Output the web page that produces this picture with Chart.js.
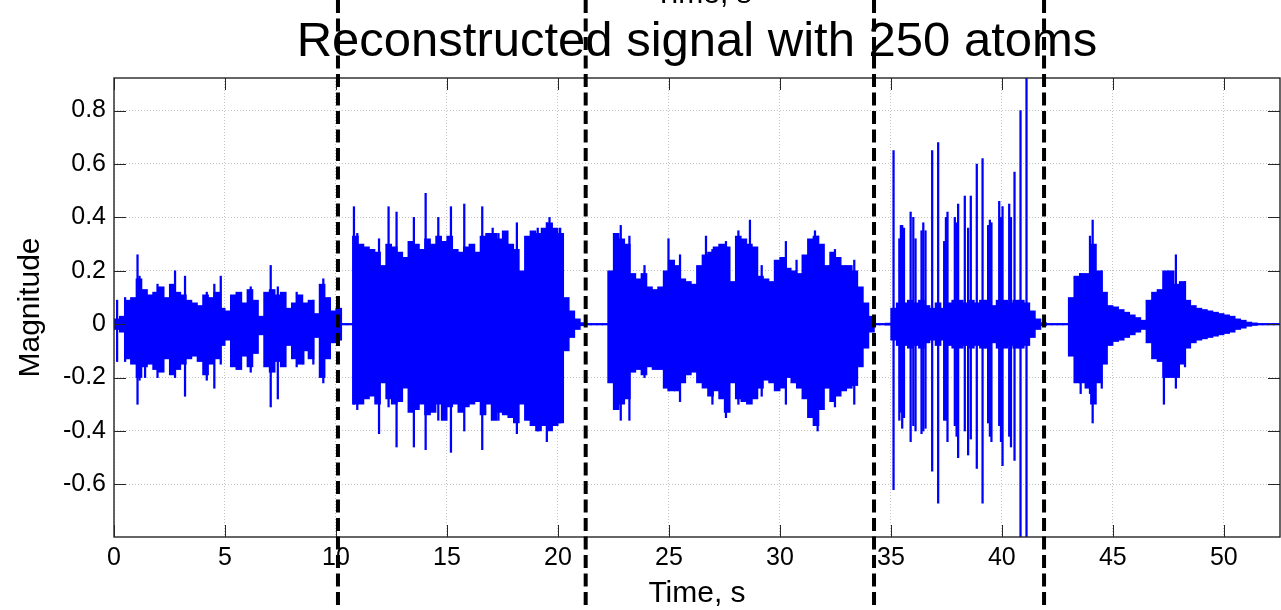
<!DOCTYPE html>
<html>
<head>
<meta charset="utf-8">
<script src="https://cdn.jsdelivr.net/npm/chart.js@4/dist/chart.umd.min.js"></script>
<style>
  body { margin: 0; background: #fff; }
  canvas { display: block; }
</style>
</head>
<body>
<canvas id="signalChart" width="1281" height="610"></canvas>
<script>
// envelope of the waveform, one value per 0.25 s bin (from 0 s)
const binStep = 0.25;
const coreHi = [
  0.02, 0.03, 0.09, 0.10,   0.17, 0.13, 0.11, 0.12,   0.14, 0.10, 0.15, 0.12,   0.11, 0.09, 0.08, 0.07,
  0.11, 0.10, 0.12, 0.06,   0.05, 0.11, 0.12, 0.08,   0.13, 0.09, 0.03, 0.12,   0.13, 0.11, 0.12, 0.06,
  0.08, 0.11, 0.08, 0.09,   0.04, 0.15, 0.10, 0.05,   0.06, 0.003, 0.003, 0.33,  0.30, 0.29, 0.28, 0.27,
  0.22, 0.30, 0.29, 0.27,   0.25, 0.31, 0.30, 0.28,   0.32, 0.30, 0.33, 0.31,   0.33, 0.28, 0.27, 0.29,
  0.30, 0.27, 0.33, 0.34,   0.34, 0.32, 0.35, 0.30,   0.28, 0.20, 0.33, 0.35,   0.34, 0.36, 0.38, 0.36,
  0.34, 0.10, 0.05, 0.02,   0.006, 0.003, 0.003, 0.003, 0.003, 0.20, 0.34, 0.32, 0.30, 0.19, 0.17, 0.19,
  0.14, 0.13, 0.14, 0.20,   0.24, 0.22, 0.17, 0.16,   0.15, 0.22, 0.26, 0.27,   0.29, 0.30, 0.29, 0.16,
  0.33, 0.32, 0.30, 0.29,   0.18, 0.17, 0.16, 0.24,   0.25, 0.21, 0.20, 0.19,   0.26, 0.32, 0.33, 0.30,
  0.22, 0.27, 0.25, 0.22,   0.22, 0.20, 0.14, 0.08,   0.03, 0.003, 0.003, 0.004, 0.06, 0.08, 0.08, 0.09,
  0.08, 0.09, 0.07, 0.06,   0.08, 0.06, 0.08, 0.09,   0.09, 0.08, 0.09, 0.08,   0.09, 0.09, 0.07, 0.09,
  0.09, 0.08, 0.09, 0.09,   0.08, 0.05, 0.02, 0.006,  0.003, 0.003, 0.003, 0.003, 0.10, 0.18, 0.19, 0.19,
  0.30, 0.20, 0.12, 0.07,   0.065, 0.055, 0.045, 0.035, 0.025, 0.015, 0.09, 0.12, 0.13, 0.20, 0.20, 0.15,
  0.16, 0.09, 0.07, 0.06,   0.055, 0.05, 0.045, 0.04, 0.035, 0.03, 0.02, 0.015, 0.008, 0.005, 0.003, 0.003,
  0.003, 0.003
];
const coreLo = [
  -0.02, -0.03, -0.13, -0.15,  -0.20, -0.16, -0.15, -0.17,  -0.18, -0.13, -0.19, -0.17,  -0.15, -0.13, -0.12, -0.14,
  -0.19, -0.15, -0.13, -0.08,  -0.06, -0.16, -0.17, -0.12,  -0.16, -0.11, -0.04, -0.16,  -0.18, -0.14, -0.16, -0.08,
  -0.13, -0.15, -0.10, -0.13,  -0.05, -0.20, -0.13, -0.07,  -0.06, -0.003, -0.003, -0.30, -0.30, -0.28, -0.27, -0.30,
  -0.22, -0.28, -0.30, -0.29,  -0.24, -0.33, -0.32, -0.30,  -0.34, -0.33, -0.30, -0.36,  -0.31, -0.30, -0.33, -0.31,
  -0.30, -0.29, -0.34, -0.30,  -0.36, -0.33, -0.34, -0.35,  -0.37, -0.30, -0.36, -0.38,  -0.40, -0.38, -0.40, -0.38,
  -0.37, -0.10, -0.05, -0.02,  -0.006, -0.003, -0.003, -0.003, -0.003, -0.22, -0.32, -0.30, -0.28, -0.18, -0.17, -0.19,
  -0.16, -0.17, -0.17, -0.24,  -0.25, -0.25, -0.22, -0.19,  -0.18, -0.22, -0.24, -0.27,  -0.25, -0.28, -0.33, -0.22,
  -0.28, -0.29, -0.30, -0.28,  -0.24, -0.21, -0.22, -0.25,  -0.24, -0.20, -0.22, -0.24,  -0.28, -0.35, -0.38, -0.32,
  -0.24, -0.29, -0.27, -0.25,  -0.24, -0.23, -0.16, -0.09,  -0.03, -0.003, -0.003, -0.004, -0.06, -0.08, -0.08, -0.09,
  -0.08, -0.09, -0.07, -0.06,  -0.08, -0.06, -0.08, -0.09,  -0.09, -0.08, -0.09, -0.08,  -0.09, -0.09, -0.07, -0.09,
  -0.09, -0.08, -0.09, -0.09,  -0.08, -0.05, -0.02, -0.006, -0.003, -0.003, -0.003, -0.003, -0.12, -0.22, -0.22, -0.24,
  -0.30, -0.22, -0.15, -0.08,  -0.065, -0.06, -0.05, -0.04, -0.03, -0.02, -0.07, -0.13, -0.14, -0.20, -0.20, -0.20,
  -0.15, -0.09, -0.07, -0.06,  -0.055, -0.05, -0.045, -0.04, -0.035, -0.03, -0.02, -0.015, -0.008, -0.005, -0.003, -0.003,
  -0.003, -0.003
];

// single tall peaks sticking out of the envelope
const spikeT = [
  0.14, 0.5, 1.06, 1.15, 1.4, 1.96, 2.75, 3.2, 4.18, 4.52, 4.81, 6.16, 7.06, 7.38, 8.23, 8.53, 8.98, 9.43,
  10.81, 10.96, 11.94, 12.37, 12.73, 13.51, 14.04, 14.61, 15.18, 15.78, 16.59, 17.06, 17.32, 18.15, 18.67,
  19.09, 19.5, 19.62, 20.1, 22.83, 23.22, 23.9, 24.98, 25.5, 26.67, 26.96, 27.57, 28.13, 28.65, 29.18,
  30.27, 30.75, 31.58, 31.7, 32.48, 33.35,
  35.12, 35.38, 35.45, 35.51, 35.59, 35.89, 36.01, 36.11, 36.38, 36.46, 36.56, 36.86, 37.13, 37.4, 37.48,
  37.55, 37.88, 37.96, 38.03, 38.33, 38.48, 38.6, 38.87, 39.13, 39.38, 39.46, 39.53, 39.88, 39.96, 40.03,
  40.33, 40.41, 40.57, 40.84, 41.11,
  43.55, 43.97, 44.09, 44.5, 47.3, 47.84, 48.25
];
const spikeHi = [
  0.09, 0.10, 0.26, 0.18, 0.12, 0.15, 0.20, 0.18, 0.12, 0.15, 0.18, 0.14, 0.22, 0.14, 0.12, 0.07, 0.09, 0.17,
  0.44, 0.34, 0.32, 0.44, 0.42, 0.40, 0.49, 0.40, 0.44, 0.45, 0.44, 0.36, 0.34, 0.38, 0.32,
  0.36, 0.38, 0.40, 0.36, 0.37, 0.33, 0.22, 0.32, 0.26, 0.33, 0.28, 0.31, 0.35, 0.39, 0.22,
  0.31, 0.24, 0.35, 0.33, 0.28, 0.24,
  0.65, 0.32, 0.37, 0.37, 0.36, 0.42, 0.40, 0.32, 0.35, 0.38, 0.35, 0.65, 0.68, 0.31, 0.40,
  0.42, 0.40, 0.38, 0.45, 0.48, 0.36, 0.48, 0.60, 0.62, 0.37, 0.39, 0.38, 0.46, 0.40, 0.44,
  0.45, 0.40, 0.57, 0.80, 0.95,
  0.19, 0.33, 0.39, 0.20, 0.18, 0.26, 0.16
];
const spikeLo = [
  -0.14, -0.14, -0.30, -0.21, -0.20, -0.20, -0.20, -0.27, -0.21, -0.24, -0.15, -0.18, -0.31, -0.28, -0.16, -0.15, -0.15, -0.22,
  -0.30, -0.32, -0.41, -0.31, -0.46, -0.46, -0.47, -0.36, -0.48, -0.40, -0.47, -0.35, -0.36, -0.41, -0.34,
  -0.40, -0.44, -0.38, -0.37, -0.36, -0.36, -0.20, -0.25, -0.29, -0.23, -0.30, -0.35, -0.30, -0.29, -0.27,
  -0.30, -0.22, -0.38, -0.40, -0.31, -0.30,
  -0.62, -0.36, -0.33, -0.39, -0.35, -0.44, -0.38, -0.40, -0.41, -0.40, -0.39, -0.55, -0.67, -0.36, -0.36,
  -0.44, -0.38, -0.42, -0.50, -0.40, -0.49, -0.43, -0.54, -0.67, -0.37, -0.42, -0.44, -0.38, -0.44, -0.53,
  -0.42, -0.46, -0.51, -0.85, -0.80,
  -0.26, -0.26, -0.37, -0.24, -0.30, -0.24, -0.16
];

// segment boundaries (dashed lines), seconds
const dividers = [10.09, 21.25, 34.24, 41.9];

const xMin = 0, xMax = 52.53;
const yMin = -0.797, yMax = 0.922;
const xTicks = [0, 5, 10, 15, 20, 25, 30, 35, 40, 45, 50];
const yTicks = [-0.6, -0.4, -0.2, 0, 0.2, 0.4, 0.6, 0.8];

const BLUE = 'rgb(0,0,255)';
const AXIS = '#262626';
Chart.defaults.font.family = '"Liberation Sans", Arial, Helvetica, sans-serif';
Chart.defaults.color = '#000';

const coreData = coreHi.map((h, i) => ({ x: i * binStep + binStep / 2, y: [coreLo[i], h] }));
const spikeData = spikeT.map((t, i) => ({ x: t, y: [spikeLo[i], spikeHi[i]] }));

// caja, ticks hacia dentro (estilo MATLAB) y las lineas discontinuas
const framePlugin = {
  id: 'frame',
  afterDatasetsDraw(chart) {
    const { ctx, chartArea: a, scales: { x, y } } = chart;
    ctx.save();
    ctx.strokeStyle = AXIS;
    ctx.lineWidth = 1;
    ctx.beginPath();
    xTicks.forEach(v => {
      const px = Math.round(x.getPixelForValue(v)) + 0.5;
      ctx.moveTo(px, a.bottom); ctx.lineTo(px, a.bottom - 12);
      ctx.moveTo(px, a.top); ctx.lineTo(px, a.top + 12);
    });
    yTicks.forEach(v => {
      const py = Math.round(y.getPixelForValue(v)) + 0.5;
      ctx.moveTo(a.left, py); ctx.lineTo(a.left + 12, py);
      ctx.moveTo(a.right, py); ctx.lineTo(a.right - 12, py);
    });
    ctx.stroke();
    ctx.lineWidth = 1.4;
    ctx.strokeRect(a.left, a.top, a.right - a.left, a.bottom - a.top);
    ctx.restore();
  },
  afterDraw(chart) {
    const { ctx, chartArea: a, scales: { x } } = chart;
    ctx.save();
    // label of the subplot above, cut by the top edge
    ctx.fillStyle = '#000';
    ctx.font = '30px "Liberation Sans", Arial, sans-serif';
    ctx.textAlign = 'center';
    ctx.textBaseline = 'alphabetic';
    ctx.fillText('Time, s', (a.left + a.right) / 2 + 6, 3);

    ctx.strokeStyle = '#000';
    ctx.lineWidth = 4;
    ctx.setLineDash([13, 5.5]);
    dividers.forEach(t => {
      const px = x.getPixelForValue(t);
      ctx.beginPath();
      ctx.moveTo(px, 0);
      ctx.lineTo(px, chart.height);
      ctx.stroke();
    });
    ctx.restore();
  }
};

const gridOpts = { color: '#c4c4c4', lineWidth: 1, drawTicks: false, offset: false };

new Chart(document.getElementById('signalChart'), {
  type: 'bar',
  data: {
    datasets: [
      { label: 'envelope', data: coreData, backgroundColor: BLUE, borderWidth: 0, barThickness: 6, grouped: false },
      { label: 'peaks', data: spikeData, backgroundColor: BLUE, borderWidth: 0, barThickness: 1.6, grouped: false }
    ]
  },
  options: {
    responsive: false,
    animation: false,
    layout: { padding: { left: 0, right: 1, top: 0, bottom: 0 } },
    plugins: { legend: { display: false }, tooltip: { enabled: false }, title: { display: false } },
    scales: {
      x: {
        type: 'linear',
        position: 'bottom',
        offset: false,
        min: xMin, max: xMax,
        afterBuildTicks: s => { s.ticks = xTicks.map(v => ({ value: v })); },
        afterFit: s => { s.height = 73; },
        grid: gridOpts,
        border: { display: false, dash: [1, 2] },
        ticks: { font: { size: 25 }, padding: 6, maxRotation: 0, autoSkip: false, callback: v => String(v) },
        title: { display: true, text: 'Time, s', font: { size: 30, lineHeight: 1 }, padding: { top: 0, bottom: 1 } }
      },
      xTop: {
        type: 'linear',
        position: 'top',
        offset: false,
        min: xMin, max: xMax,
        afterFit: s => { s.height = 78; },
        grid: { display: false },
        border: { display: false },
        ticks: { display: false },
        title: { display: true, text: 'Reconstructed signal with 250 atoms', font: { size: 49, lineHeight: 1.2 }, padding: { top: 13, bottom: 0 } }
      },
      y: {
        type: 'linear',
        min: yMin, max: yMax,
        afterBuildTicks: s => { s.ticks = yTicks.map(v => ({ value: v })); },
        afterFit: s => { s.width = 114; },
        grid: gridOpts,
        border: { display: false, dash: [1, 2] },
        ticks: { font: { size: 25 }, padding: 8, callback: v => Math.abs(v) < 1e-9 ? '0' : v.toFixed(1) },
        title: { display: true, text: 'Magnitude', font: { size: 30, lineHeight: 1.2 }, padding: { top: 13, bottom: 0 } }
      }
    }
  },
  plugins: [framePlugin]
});
</script>
</body>
</html>
